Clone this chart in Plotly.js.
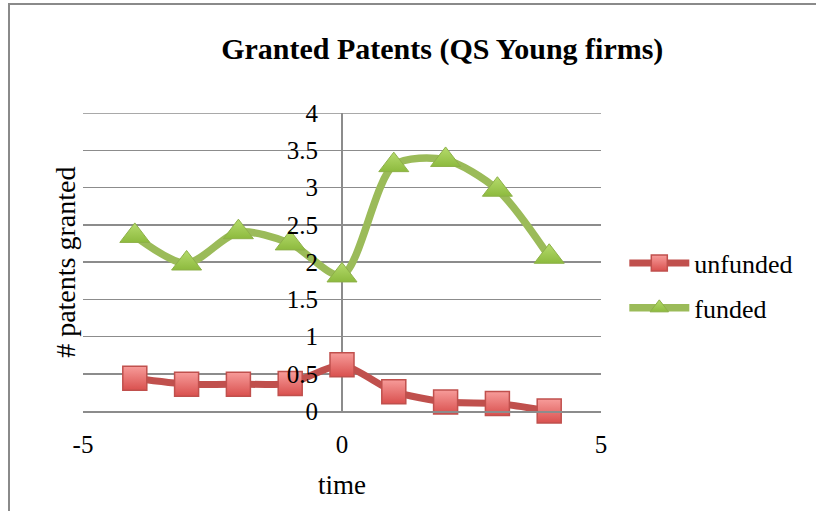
<!DOCTYPE html>
<html>
<head>
<meta charset="utf-8">
<script src="https://cdn.plot.ly/plotly-3.0.1.min.js"></script>
<style>
html,body{margin:0;padding:0;background:#fff;}
#wrap{position:absolute;left:0;top:0;width:816px;height:511px;overflow:hidden;}
#frame{position:absolute;left:8px;top:3px;width:820px;height:520px;border-left:2px solid #8a8a8a;border-top:2px solid #8a8a8a;pointer-events:none;}
#chart{position:absolute;left:0;top:0;width:816px;height:511px;}
</style>
</head>
<body>
<div id="wrap"><div id="chart"></div><div id="frame"></div></div>
<script>
const time = [-4, -3, -2, -1, 0, 1, 2, 3, 4];
const unfunded = [0.44, 0.36, 0.36, 0.37, 0.62, 0.26, 0.12, 0.10, 0.0];
const funded = [2.35, 1.98, 2.40, 2.25, 1.82, 3.30, 3.37, 2.97, 2.07];
const xTicks = [-5, 0, 5];
const yTicks = [0, 0.5, 1, 1.5, 2, 2.5, 3, 3.5, 4];
const yTickText = ['0', '0.5', '1', '1.5', '2', '2.5', '3', '3.5', '4'];

const serif = 'Liberation Serif, DejaVu Serif, serif';
const grid = '#8c8c8c';

const traces = [
  {
    x: time, y: unfunded, name: 'unfunded', type: 'scatter', mode: 'lines+markers',
    legendgroup: 'a',
    line: {color: '#C0504D', width: 7, shape: 'spline', smoothing: 0.6},
    marker: {symbol: 'square', size: 24, color: '#F79C9A',
      gradient: {type: 'vertical', color: '#D9504E'},
      line: {color: '#C0504D', width: 1.5}},
    cliponaxis: false
  },
  {
    x: time, y: funded, name: 'funded', type: 'scatter', mode: 'lines+markers',
    legendgroup: 'b',
    line: {color: '#9BBB59', width: 7.5, shape: 'spline', smoothing: 0.8},
    marker: {symbol: 'triangle-up', size: 26, color: '#B5DB6C',
      gradient: {type: 'vertical', color: '#8DBA3E'},
      line: {color: '#8DB048', width: 1}},
    cliponaxis: false
  }
];

const layout = {
  width: 816, height: 511,
  margin: {l: 83, r: 215, t: 113, b: 100},
  paper_bgcolor: '#ffffff', plot_bgcolor: '#ffffff',
  font: {family: serif, size: 25, color: '#000'},
  title: {text: '<b>Granted Patents (QS Young firms)</b>', x: 0.542, xanchor: 'center', y: 0.906, yanchor: 'middle',
    font: {family: serif, size: 30, color: '#000'}},
  xaxis: {
    range: [-5, 5], tickvals: xTicks, ticktext: xTicks.map(String),
    showgrid: false, zeroline: true, zerolinecolor: grid, zerolinewidth: 1.5,
    showline: true, linecolor: grid, linewidth: 1.5,
    ticks: 'inside', ticklen: 8, tickcolor: grid, tickwidth: 1.5,
    ticklabelstandoff: 10,
    tickfont: {family: serif, size: 25}, fixedrange: true
  },
  yaxis: {
    range: [0, 4], tickvals: yTicks, ticktext: yTickText,
    anchor: 'free', position: 0.5,
    showgrid: true, gridcolor: grid, gridwidth: 1.5,
    zeroline: false, showline: false, ticks: '',
    ticklabelstandoff: 24,
    tickfont: {family: serif, size: 25}, fixedrange: true
  },
  shapes: [
    {type: 'line', xref: 'paper', yref: 'y', x0: 0, x1: 1, y0: 4, y1: 4,
      line: {color: grid, width: 1.5}, layer: 'below'}
  ],
  legend: {x: 1.045, y: 0.575, xanchor: 'left', yanchor: 'top',
    font: {family: serif, size: 26}, tracegroupgap: 8, itemwidth: 60, bgcolor: 'rgba(0,0,0,0)'},
  annotations: [
    {text: '# patents granted', textangle: -90, xref: 'paper', yref: 'paper', x: -0.035, y: 0.5,
      xanchor: 'center', yanchor: 'middle', showarrow: false, font: {family: serif, size: 28}},
    {text: 'time', xref: 'paper', yref: 'paper', x: 0.5, y: -0.248,
      xanchor: 'center', yanchor: 'middle', showarrow: false, font: {family: serif, size: 27}}
  ],
  showlegend: true
};

Plotly.newPlot('chart', traces, layout, {displayModeBar: false, staticPlot: true});
</script>
</body>
</html>
